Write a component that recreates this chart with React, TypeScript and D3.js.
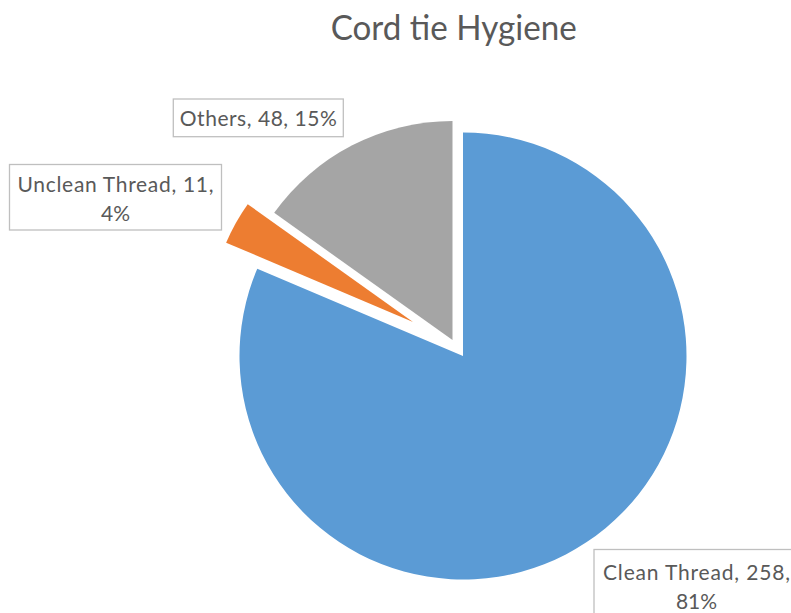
import React from "react";
import * as d3 from "d3";

// Cord tie hygiene survey: counts per category
const categories = ["Clean Thread", "Unclean Thread", "Others"];
const counts = [258, 11, 48];
const percentLabels = ["81%", "4%", "15%"];
const colors = ["#5B9BD5", "#ED7D31", "#A5A5A5"];

const WIDTH = 791;
const HEIGHT = 613;
const CENTER: [number, number] = [463, 356];

// Exploded-slice geometry: offset of each wedge's apex from the pie centre, and its radius
const sliceOffsets: [number, number][] = [
  [0, 0],
  [-50, -34],
  [-10.5, -16],
];
const sliceRadii = [223.5, 203, 219];

// Data-label boxes (centre x, top y, width, height), text line baselines and first-line widths
const labelBoxes = [
  { cx: 696.5, top: 549.5, w: 205, h: 70, lines: [580, 609.3], firstWidth: 187 },
  { cx: 115.5, top: 164.5, w: 212, h: 65.5, lines: [192.3, 220.7], firstWidth: 196 },
  { cx: 258.3, top: 99, w: 170, h: 37.7, lines: [126], firstWidth: 157 },
];

const FONT = "Lato, 'Open Sans', 'Noto Sans', sans-serif";
const TEXT_COLOR = "#595959";

export default function App() {
  const pie = d3
    .pie<number>()
    .sort(null)
    .value((d) => d)
    .startAngle(0)
    .endAngle(2 * Math.PI);
  const arcs = pie(counts);

  const labelLines = categories.map((c, i) =>
    labelBoxes[i].lines.length === 1
      ? [`${c}, ${counts[i]}, ${percentLabels[i]}`]
      : [`${c}, ${counts[i]},`, percentLabels[i]]
  );

  return (
    <svg
      width={WIDTH}
      height={HEIGHT}
      style={{ position: "fixed", left: 0, top: 0, background: "#fff" }}
    >
      <rect width={WIDTH} height={HEIGHT} fill="#fff" />
      <text
        x={453.7}
        y={39.5}
        textAnchor="middle"
        fontFamily={FONT}
        fontSize={34}
        fill={TEXT_COLOR}
        textLength={246}
        lengthAdjust="spacingAndGlyphs"
      >
        Cord tie Hygiene
      </text>

      {arcs.map((a, i) => {
        const arcGen = d3.arc<d3.PieArcDatum<number>>().innerRadius(0).outerRadius(sliceRadii[i]);
        const [ox, oy] = sliceOffsets[i];
        return (
          <path
            key={categories[i]}
            d={arcGen(a) ?? ""}
            transform={`translate(${CENTER[0] + ox},${CENTER[1] + oy})`}
            fill={colors[i]}
          />
        );
      })}

      {labelBoxes.map((b, i) => (
        <g key={`label-${categories[i]}`}>
          <rect
            x={b.cx - b.w / 2}
            y={b.top}
            width={b.w}
            height={b.h}
            fill="#fff"
            stroke="#BFBFBF"
            strokeWidth={1.3}
          />
          {labelLines[i].map((line, j) => (
            <text
              key={j}
              x={b.cx}
              y={b.lines[j]}
              textAnchor="middle"
              fontFamily={FONT}
              fontSize={21}
              fill={TEXT_COLOR}
              {...(j === 0 ? { textLength: b.firstWidth, lengthAdjust: "spacing" } : {})}
            >
              {line}
            </text>
          ))}
        </g>
      ))}
    </svg>
  );
}
